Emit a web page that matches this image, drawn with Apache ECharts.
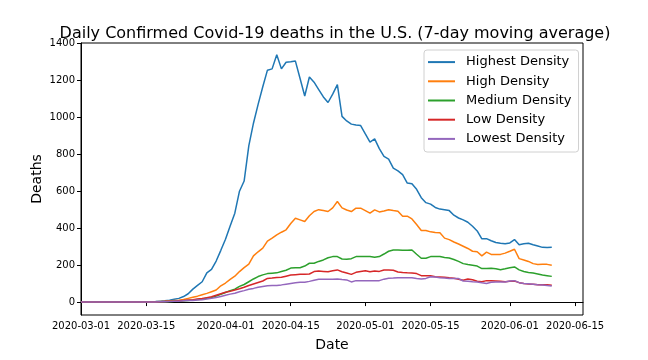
<!DOCTYPE html>
<html>
<head>
<meta charset="utf-8">
<script src="https://cdn.jsdelivr.net/npm/echarts@6/dist/echarts.min.js"></script>
<style>html,body{margin:0;padding:0;background:#fff}#chart{width:648px;height:360px}</style>
</head>
<body>
<div id="chart"></div>
<script>
// ---- data (daily values starting 2020-03-01) ----
const startDate = '2020-03-01';
const seriesNames = ['Highest Density', 'High Density', 'Medium Density', 'Low Density', 'Lowest Density'];
const highest = [0,0,0,0,0,0,0,0,0,0,0,0,1,1,1,2,3,5,7,10,15,20,30,45,70,90,110,158,177,222,280,340,412,481,600,655,845,968,1070,1165,1255,1262,1338,1262,1298,1300,1304,1210,1115,1218,1190,1150,1110,1080,1125,1177,1005,980,963,958,955,910,866,883,830,788,774,725,710,690,644,640,610,565,538,530,512,503,500,495,470,455,445,432,410,385,342,343,332,322,318,315,320,338,310,315,318,310,303,296,295,297];
const high = [0,0,0,0,0,0,0,0,0,0,0,0,0,1,1,2,2,3,4,6,8,10,14,20,26,32,40,47,56,65,88,103,123,140,165,186,205,250,272,292,330,346,364,378,391,425,454,445,436,467,490,500,495,490,510,544,510,498,490,508,508,495,481,499,488,493,500,495,492,465,465,450,420,387,387,380,376,375,346,338,325,314,302,290,275,272,250,270,258,257,258,265,275,286,235,228,220,208,203,205,204,199];
const medium = [0,0,0,0,0,0,0,0,0,0,0,0,0,0,0,1,1,2,2,3,4,5,7,9,11,14,17,20,24,32,42,52,62,70,85,95,110,125,138,147,154,156,158,165,172,184,186,186,195,210,210,220,228,240,246,246,233,232,235,246,246,246,246,242,246,260,275,282,282,280,280,282,259,237,237,246,246,246,241,238,230,220,208,203,199,195,181,181,183,180,175,180,186,190,174,165,160,157,152,146,143,139];
const low = [0,0,0,0,0,0,0,0,0,0,0,0,0,0,0,1,1,2,3,4,5,7,9,11,13,16,19,24,29,37,45,53,58,65,72,80,90,98,106,114,128,130,133,134,140,146,148,150,150,152,165,168,166,164,170,174,164,157,150,161,166,170,164,168,166,174,174,172,163,160,158,157,154,143,143,142,137,136,134,131,129,124,118,125,121,113,110,116,115,114,112,110,112,114,105,101,98,96,94,94,94,91];
const lowest = [0,0,0,0,0,0,0,0,0,0,0,0,0,0,0,1,1,2,2,3,4,5,7,8,9,11,13,16,20,25,30,37,43,48,56,62,69,74,80,84,88,90,90,93,97,101,104,107,107,112,118,123,123,123,124,125,122,120,109,116,116,116,116,116,116,124,129,130,132,132,132,132,128,125,128,137,135,132,130,127,127,127,114,112,110,109,104,101,107,108,109,109,114,116,105,101,99,97,94,92,90,87];
const xTickLabels = ['2020-03-01','2020-03-15','2020-04-01','2020-04-15','2020-05-01','2020-05-15','2020-06-01','2020-06-15'];
const yTicks = [0, 200, 400, 600, 800, 1000, 1200, 1400];
const colors = ['#1f77b4', '#ff7f0e', '#2ca02c', '#d62728', '#9467bd'];

const DAY = 86400000;
const t0 = Date.parse(startDate + 'T00:00:00Z');
function pairs(arr) { return arr.map((v, i) => [t0 + i * DAY, v]); }
const allSeries = [highest, high, medium, low, lowest];
const xTickValues = xTickLabels.map(s => Date.parse(s + 'T00:00:00Z'));
function fmt(ms) { const d = new Date(ms); const p = n => String(n).padStart(2, '0'); return d.getUTCFullYear() + '-' + p(d.getUTCMonth() + 1) + '-' + p(d.getUTCDate()); }

const FONT = 'DejaVu Sans';
const chart = echarts.init(document.getElementById('chart'), null, { renderer: 'canvas' });
chart.setOption({
  animation: false,
  backgroundColor: '#fff',
  title: {
    text: 'Daily Confirmed Covid-19 deaths in the U.S. (7-day moving average)',
    left: 330, top: 21, textAlign: 'center',
    textStyle: { fontFamily: FONT, fontSize: 16, fontWeight: 'normal', color: '#000' }
  },
  grid: { left: 81, right: 65, top: 43, bottom: 45, show: true, borderColor: '#000', borderWidth: 1, backgroundColor: 'transparent' },
  legend: {
    orient: 'vertical', left: 424, top: 50,
    data: seriesNames,
    icon: 'rect', itemWidth: 27, itemHeight: 2, itemGap: 5,
    padding: [5, 7, 6, 4],
    borderColor: '#d0d0d0', borderWidth: 1, borderRadius: 3, backgroundColor: 'rgba(255,255,255,0.8)',
    textStyle: { fontFamily: FONT, fontSize: 13, color: '#000', lineHeight: 14.2, padding: [0, 0, 0, 6] }
  },
  xAxis: {
    type: 'value',
    min: t0, max: t0 + 107.7 * DAY,
    name: 'Date', nameLocation: 'middle', nameGap: 23, nameMoveOverlap: false,
    nameTextStyle: { fontFamily: FONT, fontSize: 14, color: '#000' },
    axisLine: { show: true, lineStyle: { color: '#000', width: 1 } },
    axisTick: { show: true, length: 4, lineStyle: { color: '#000' }, customValues: xTickValues },
    axisLabel: { fontFamily: FONT, fontSize: 10, color: '#000', margin: 6, customValues: xTickValues, formatter: v => fmt(v) },
    splitLine: { show: false }
  },
  yAxis: {
    type: 'value',
    min: -70, max: 1402,
    name: 'Deaths', nameLocation: 'middle', nameGap: 37, nameMoveOverlap: false,
    nameTextStyle: { fontFamily: FONT, fontSize: 14, color: '#000' },
    axisLine: { show: true, lineStyle: { color: '#000', width: 1 } },
    axisTick: { show: true, length: 4, lineStyle: { color: '#000' }, customValues: yTicks },
    axisLabel: { fontFamily: FONT, fontSize: 10, color: '#000', margin: 6, customValues: yTicks, formatter: v => String(v) },
    splitLine: { show: false }
  },
  series: seriesNames.map((name, i) => ({
    name, type: 'line', data: pairs(allSeries[i]),
    showSymbol: false, symbol: 'none',
    lineStyle: { color: colors[i], width: 1.5 },
    itemStyle: { color: colors[i] },
    z: 2 + i
  }))
});
</script>
</body>
</html>
